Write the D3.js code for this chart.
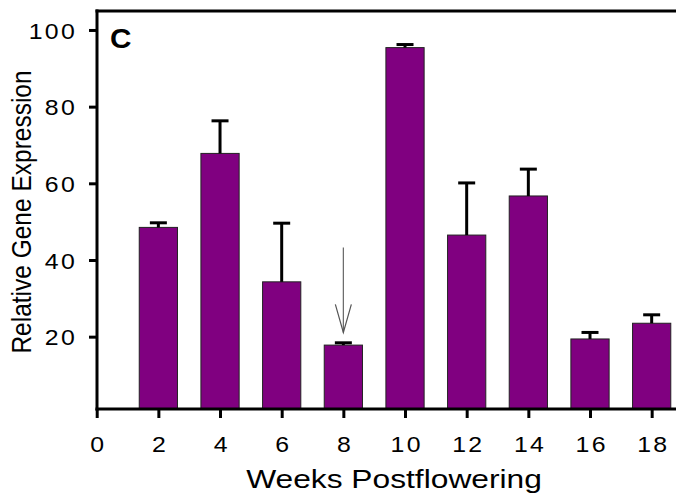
<!DOCTYPE html>
<html>
<head>
<meta charset="utf-8">
<script src="https://cdn.jsdelivr.net/npm/d3@7"></script>
<style>
  html, body { margin: 0; padding: 0; background: #fff; }
  svg { display: block; }
  text { font-family: Arial, "Liberation Sans", sans-serif; fill: #000; }
</style>
</head>
<body>
<svg id="chart" width="676" height="497"></svg>
<script>
// ---- data ----
const weeks = [2, 4, 6, 8, 10, 12, 14, 16, 18];
const means = [48.5, 67.8, 34.3, 17.8, 95.4, 46.5, 56.7, 19.4, 23.5];
const errors = [1.2, 8.5, 15.3, 0.6, 0.8, 13.6, 7.0, 1.7, 2.2];
const xTicks = [0, 2, 4, 6, 8, 10, 12, 14, 16, 18];
const yTicks = [20, 40, 60, 80, 100];
const xTitle = "Weeks Postflowering";
const yTitle = "Relative Gene Expression";
const panelLabel = "C";
const arrowWeek = 8;

// ---- layout ----
const svg = d3.select("#chart");
const x = d3.scaleLinear().domain([0, 19]).range([96.7, 682.5]);
const y = d3.scaleLinear().domain([1, 105]).range([409.5, 10.8]);
const barW = x(1.24) - x(0);
const baseY = 409;
const purple = "#800080";
const tickScale = 1.13;

// bars
svg.selectAll("rect.bar")
  .data(weeks.map((w, i) => ({ w, m: means[i], e: errors[i] })))
  .join("rect")
  .attr("class", "bar")
  .attr("x", d => x(d.w) - barW / 2)
  .attr("y", d => y(d.m))
  .attr("width", barW)
  .attr("height", d => baseY - y(d.m))
  .attr("fill", purple)
  .attr("stroke", "#222")
  .attr("stroke-width", 1);

// error bars
const eb = svg.selectAll("g.err")
  .data(weeks.map((w, i) => ({ w, m: means[i], e: errors[i] })))
  .join("g").attr("class", "err");
eb.append("line")
  .attr("x1", d => x(d.w)).attr("x2", d => x(d.w))
  .attr("y1", d => y(d.m)).attr("y2", d => y(d.m + d.e))
  .attr("stroke", "#000").attr("stroke-width", 3);
eb.append("line")
  .attr("x1", d => x(d.w) - 8.5).attr("x2", d => x(d.w) + 8.5)
  .attr("y1", d => y(d.m + d.e)).attr("y2", d => y(d.m + d.e))
  .attr("stroke", "#000").attr("stroke-width", 3);

// arrow above week 8
const ax = x(arrowWeek);
const arrowTip = y(means[weeks.indexOf(arrowWeek)] + 3.3);
svg.append("line")
  .attr("x1", ax).attr("x2", ax)
  .attr("y1", arrowTip - 85).attr("y2", arrowTip)
  .attr("stroke", "#666").attr("stroke-width", 1.2);
svg.append("path")
  .attr("d", `M${ax - 8},${arrowTip - 28} L${ax},${arrowTip} L${ax + 8},${arrowTip - 28}`)
  .attr("fill", "none").attr("stroke", "#555").attr("stroke-width", 1.2);

// axes
const yAxis = d3.axisLeft(y).tickValues(yTicks).tickSize(8).tickFormat(d3.format("d"));
const gy = svg.append("g").attr("transform", "translate(97,0)").call(yAxis);
gy.select(".domain").remove();
gy.selectAll(".tick line").attr("stroke", "#000").attr("stroke-width", 3);
gy.selectAll(".tick text")
  .attr("x", -20 / tickScale)
  .attr("dy", "0.37em")
  .attr("transform", `scale(${tickScale},1)`)
  .style("letter-spacing", "2px")
  .attr("font-size", 22)
  .attr("font-family", "Arial, 'Liberation Sans', sans-serif");

const xAxis = d3.axisBottom(x).tickValues(xTicks).tickSize(9).tickFormat(d3.format("d"));
const gx = svg.append("g").attr("transform", `translate(0,${baseY})`).call(xAxis);
gx.select(".domain").remove();
gx.selectAll(".tick line").attr("stroke", "#000").attr("stroke-width", 3);
gx.selectAll(".tick text")
  .attr("y", 43.5)
  .attr("dy", 0)
  .attr("x", 1)
  .attr("transform", `scale(${tickScale},1)`)
  .style("letter-spacing", "2px")
  .attr("font-size", 22)
  .attr("font-family", "Arial, 'Liberation Sans', sans-serif");

// frame lines
svg.append("line").attr("x1", 97).attr("x2", 97).attr("y1", 9.5).attr("y2", 410.5)
  .attr("stroke", "#000").attr("stroke-width", 3);
svg.append("line").attr("x1", 95.5).attr("x2", 676).attr("y1", 11).attr("y2", 11)
  .attr("stroke", "#000").attr("stroke-width", 3);
svg.append("line").attr("x1", 95.5).attr("x2", 676).attr("y1", baseY).attr("y2", baseY)
  .attr("stroke", "#000").attr("stroke-width", 3);

// titles
svg.append("text")
  .attr("transform", "translate(394,488) scale(1.27,1)")
  .attr("text-anchor", "middle")
  .attr("font-size", 25)
  .text(xTitle);

svg.append("text")
  .attr("transform", "translate(31,212) rotate(-90) scale(1,1.1)")
  .attr("text-anchor", "middle")
  .attr("font-size", 24.5)
  .text(yTitle);

svg.append("text")
  .attr("transform", "translate(110,48) scale(1.1,1)")
  .attr("font-size", 27)
  .attr("font-weight", "bold")
  .text(panelLabel);
</script>
</body>
</html>
